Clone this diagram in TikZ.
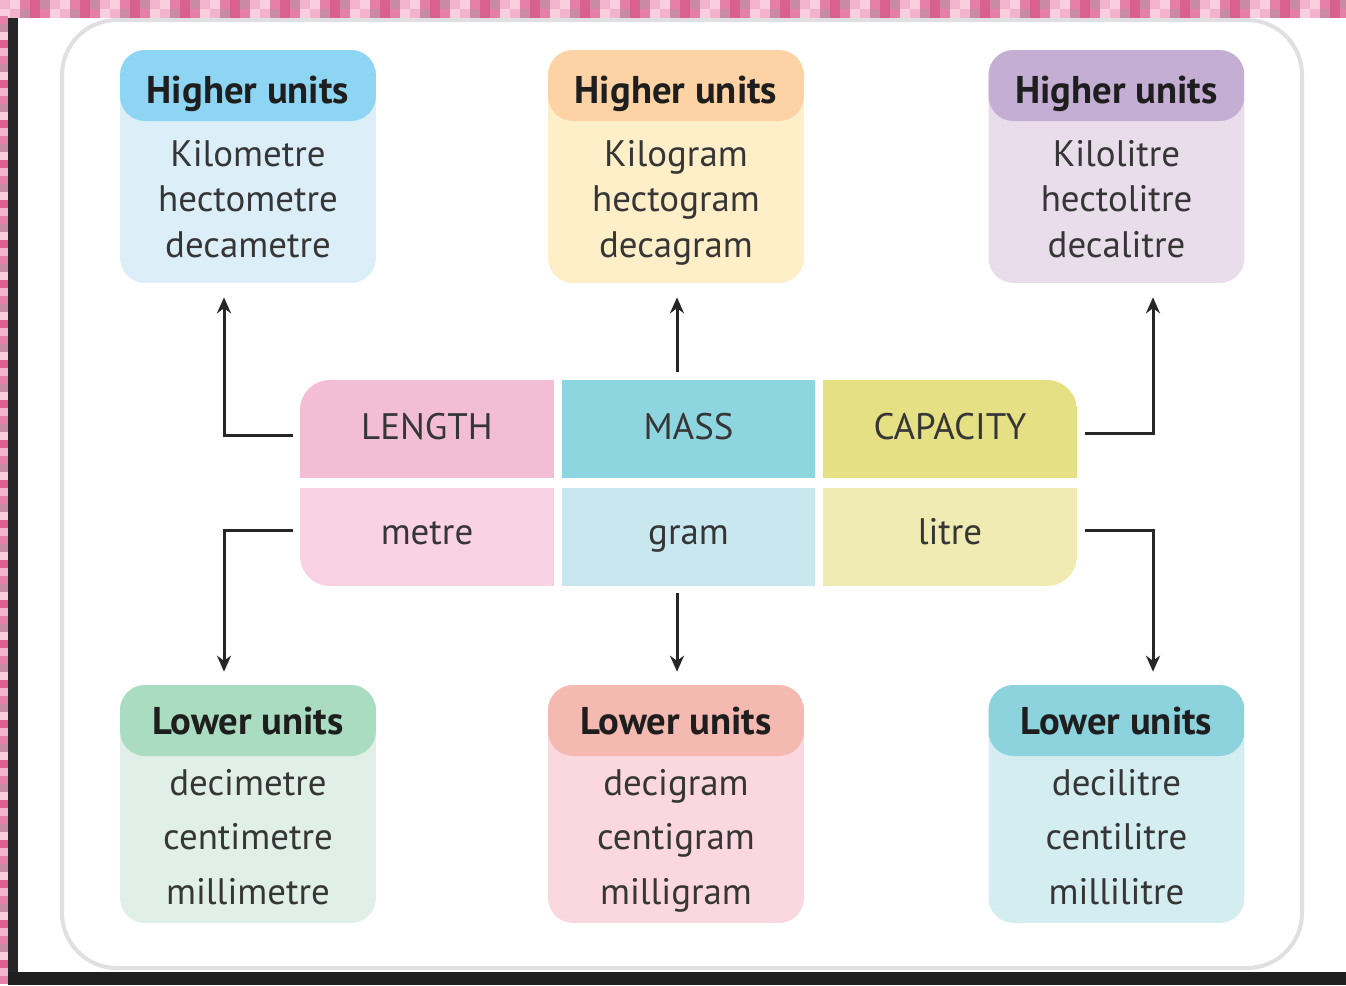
\documentclass[tikz,border=0pt]{standalone}
\usepackage{fontspec}
\setmainfont{PT Sans}
\usepackage{tikz}
\usetikzlibrary{positioning}
\usetikzlibrary{calc,arrows.meta}

\definecolor{txt}{HTML}{363636}
\definecolor{hdtxt}{HTML}{1E1E1E}
% box colours: header / body
\definecolor{blueH}{HTML}{8DD5F2}   \definecolor{blueB}{HTML}{DCEFF9}
\definecolor{orangeH}{HTML}{FDD3A5} \definecolor{orangeB}{HTML}{FEEFC8}
\definecolor{purpleH}{HTML}{C5AED3} \definecolor{purpleB}{HTML}{E9DCEB}
\definecolor{greenH}{HTML}{A9DCC0}  \definecolor{greenB}{HTML}{E0F0E8}
\definecolor{salmonH}{HTML}{F4B9B0} \definecolor{salmonB}{HTML}{FBD8DF}
\definecolor{tealH}{HTML}{8CD3DD}   \definecolor{tealB}{HTML}{D3EDF1}
% centre table
\definecolor{lenH}{HTML}{F3BDD6}  \definecolor{lenB}{HTML}{F9D3E4}
\definecolor{massH}{HTML}{8DD6E0} \definecolor{massB}{HTML}{C8E7EF}
\definecolor{capH}{HTML}{E6E085}  \definecolor{capB}{HTML}{F0EBB2}
% frame
\definecolor{pk0}{HTML}{E57FA8} \definecolor{pk1}{HTML}{F4B3CD}
\definecolor{pk2}{HTML}{D9608F} \definecolor{pk3}{HTML}{F9CFE0}
\definecolor{pk4}{HTML}{C98AA4}

\tikzset{
  unitbox/.style n args={2}{minimum width=5.12cm, inner sep=0pt,
    rounded corners=0.5cm, fill=#2,
    path picture={\fill[#1] (path picture bounding box.north west)
      rectangle ([yshift=-1.42cm]path picture bounding box.north east);}},
  hdtext/.style={font=\fontsize{22}{26}\selectfont\bfseries, text=hdtxt},
  bodytext/.style={font=\fontsize{21}{26}\selectfont, text=txt, align=center,
    text depth=0pt},
  cell/.style={minimum width=5.08cm, minimum height=1.96cm, inner sep=0pt,
    font=\fontsize{21}{25}\selectfont, text=txt,
    text height=1.39em, text depth=0.2em},
  lowcell/.style={cell, text depth=0.48em},
  link/.style={draw=black!85, line width=0.06cm,
    -{Stealth[length=0.32cm,width=0.28cm]}}
}

\begin{document}
\begin{tikzpicture}[x=0.02cm, y=-0.02cm]

	\useasboundingbox (0,0) rectangle (1346,985);

	% screenshot frame
	\fill[white] (0,0) rectangle (1346,985);
	\foreach \i in {0,...,134}{
		\pgfmathtruncatemacro\ka{mod(\i*37+11,5)}
		\pgfmathtruncatemacro\kb{mod(\i*23+3,5)}
		\fill[pk\ka] (\i*10,0) rectangle ++(10,9);
		\fill[pk\kb] (\i*10,9) rectangle ++(10,9);
	}
	\foreach \j in {2,...,122}{
		\pgfmathtruncatemacro\kc{mod(\j*29+7,5)}
		\fill[pk\kc] (0,\j*8) rectangle ++(8,8);
	}
	\fill[black!85] (8,18) rectangle (18,972);
	\fill[black!88] (8,972) rectangle (1346,985);

	% white card
	\draw[draw=black!12, line width=0.08cm, fill=white, rounded corners=1.1cm]
		(62,20) rectangle (1302,968);

	%%%%%%%%%%%%%%%%%%%%%%%%%%%%%%%%%%%%%%%%%%%%%%%%%%%%%%%%%%%%%%
	% higher units
	\node[unitbox={blueH}{blueB},   minimum height=4.66cm] (hl) at (248,166.5) {};
	\node[unitbox={orangeH}{orangeB}, minimum height=4.66cm] (hm) at (676,166.5) {};
	\node[unitbox={purpleH}{purpleB}, minimum height=4.66cm] (hr) at (1116.5,166.5) {};

	\node[hdtext] (hl-t) at ($(hl.north)+(0,44)$) {Higher units};
	\node[hdtext] (hm-t) at ($(hm.north)+(0,44)$) {Higher units};
	\node[hdtext] (hr-t) at ($(hr.north)+(0,44)$) {Higher units};

	\node[bodytext] (hl-b) at ($(hl.north)+(0,149)$) {Kilometre\\hectometre\\decametre};
	\node[bodytext] (hm-b) at ($(hm.north)+(0,149)$) {Kilogram\\hectogram\\decagram};
	\node[bodytext] (hr-b) at ($(hr.north)+(0,149)$) {Kilolitre\\hectolitre\\decalitre};

	% lower units
	\node[unitbox={greenH}{greenB},   minimum height=4.76cm] (ll) at (248,804) {};
	\node[unitbox={salmonH}{salmonB}, minimum height=4.76cm] (lm) at (676,804) {};
	\node[unitbox={tealH}{tealB},     minimum height=4.76cm] (lr) at (1116.5,804) {};

	\node[hdtext] (ll-t) at ($(ll.north)+(0,36)$) {Lower units};
	\node[hdtext] (lm-t) at ($(lm.north)+(0,36)$) {Lower units};
	\node[hdtext] (lr-t) at ($(lr.north)+(0,36)$) {Lower units};

	\node[bodytext, font=\fontsize{21}{31}\selectfont] (ll-b) at ($(ll.north)+(0,152)$) {decimetre\\centimetre\\millimetre};
	\node[bodytext, font=\fontsize{21}{31}\selectfont] (lm-b) at ($(lm.north)+(0,152)$) {decigram\\centigram\\milligram};
	\node[bodytext, font=\fontsize{21}{31}\selectfont] (lr-b) at ($(lr.north)+(0,152)$) {decilitre\\centilitre\\millilitre};

	% centre table
	\begin{scope}
		\clip[rounded corners=0.6cm] (300,380) rectangle (1077,586);
		\node[cell, fill=lenH]  (length)   at (427,429)    {LENGTH};
		\node[cell, fill=massH] (mass)     at (688.5,429)  {MASS};
		\node[cell, fill=capH]  (capacity) at (950,429)    {CAPACITY};
		\node[lowcell, fill=lenB]  (metre) at (427,536.5)  {metre};
		\node[lowcell, fill=massB] (gram)  at (688.5,536.5) {gram};
		\node[lowcell, fill=capB]  (litre) at (950,536.5)  {litre};
	\end{scope}

	% arrows up
	\draw[link] ($(length.west)+(-7,6)$) -| ($(hl.south)+(-24,14)$);
	\draw[link] ($(mass.north)+(-11.5,-8)$) -- ($(hm.south)+(1,14)$);
	\draw[link] ($(capacity.east)+(8,4)$) -| ($(hr.south)+(36.5,14)$);

	% arrows down
	\draw[link] ($(metre.west)+(-7,-6)$) -| ($(ll.north)+(-24,-13)$);
	\draw[link] ($(gram.south)+(-11.5,7)$) -- ($(lm.north)+(1,-13)$);
	\draw[link] ($(litre.east)+(8,-6)$) -| ($(lr.north)+(36.5,-13)$);

\end{tikzpicture}
\end{document}
